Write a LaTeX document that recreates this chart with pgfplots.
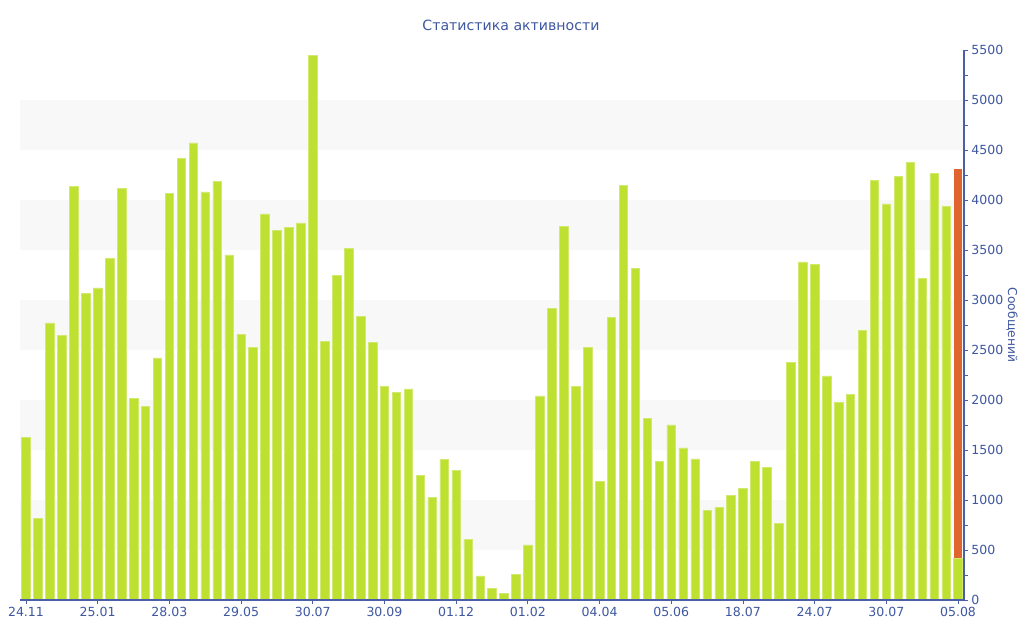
\documentclass[border=0pt]{standalone}
\usepackage{pgfplots}
\pgfplotsset{compat=1.18}
\usepackage{pgfplotstable}
\usepackage{fontspec}
\setmainfont{DejaVu Sans}
\definecolor{txtblue}{RGB}{62,87,160}
\definecolor{axblue}{RGB}{74,95,168}
\definecolor{bargreen}{RGB}{190,224,48}
\definecolor{barorange}{RGB}{224,100,45}
\definecolor{band}{RGB}{248,248,248}
\pgfplotstableread{
x g o
0 1630 0
1 819 0
2 2771 0
3 2645 0
4 4134 0
5 3067 0
6 3122 0
7 3419 0
8 4115 0
9 2015 0
10 1937 0
11 2422 0
12 4067 0
13 4419 0
14 4571 0
15 4082 0
16 4186 0
17 3452 0
18 2656 0
19 2530 0
20 3860 0
21 3693 0
22 3726 0
23 3771 0
24 5445 0
25 2589 0
26 3245 0
27 3519 0
28 2837 0
29 2578 0
30 2137 0
31 2078 0
32 2111 0
33 1245 0
34 1030 0
35 1407 0
36 1296 0
37 607 0
38 241 0
39 115 0
40 67 0
41 259 0
42 552 0
43 2041 0
44 2919 0
45 3737 0
46 2137 0
47 2526 0
48 1189 0
49 2826 0
50 4148 0
51 3319 0
52 1819 0
53 1389 0
54 1752 0
55 1522 0
56 1411 0
57 896 0
58 930 0
59 1048 0
60 1119 0
61 1385 0
62 1326 0
63 763 0
64 2378 0
65 3382 0
66 3356 0
67 2241 0
68 1974 0
69 2056 0
70 2693 0
71 4197 0
72 3960 0
73 4237 0
74 4378 0
75 3215 0
76 4267 0
77 3937 0
78 419 3889
}\datatable
\begin{document}
\begin{tikzpicture}
\useasboundingbox (-15pt,-30pt) rectangle (753pt,450pt);
% background bands
\begin{axis}[
  scale only axis,
  width=708pt, height=412.5pt,
  xmin=-0.5, xmax=78.5,
  ymin=0, ymax=5500,
  hide axis,
]
\foreach \lo in {500,1500,2500,3500,4500}{
  \edef\tmp{\noexpand\fill[band] (axis cs:-0.5,\lo) rectangle (axis cs:78.5,\lo+500);}
  \tmp
}
\end{axis}
\begin{axis}[
  scale only axis,
  axis on top,
  width=708pt, height=412.5pt,
  xmin=-0.5, xmax=78.5,
  ymin=0, ymax=5500,
  ybar stacked,
  bar width=6.4pt,
  axis x line*=bottom,
  axis y line*=right,
  axis line style={axblue, line width=0.8pt},
  xtick={0,6,...,78},
  xticklabels={24.11,25.01,28.03,29.05,30.07,30.09,01.12,01.02,04.04,05.06,18.07,24.07,30.07,05.08},
  ytick={0,500,...,5500},
  minor y tick num=1,
  tick align=outside,
  major tick length=3pt,
  minor tick length=3pt,
  every tick/.style={axblue, line width=0.6pt},
  /pgf/number format/assume math mode=true,
  /pgf/number format/1000 sep={},
  tick label style={font=\fontsize{9.4}{11}\selectfont, text=txtblue},
  xticklabel style={yshift=1pt},
  yticklabel style={xshift=-1pt},
  ylabel={Сообщений},
  ylabel style={rotate=180, at={(axis description cs:1,0.5)}, anchor=center, yshift=36pt, font=\fontsize{9.2}{11}\selectfont, text=txtblue},
  clip=false,
]
\addplot[fill=bargreen, draw=bargreen!70!white, line width=0.4pt] table[x=x, y=g] {\datatable};
\addplot[fill=barorange, draw=none] table[x=x, y=o] {\datatable};
\end{axis}
\node[text=txtblue, font=\fontsize{10.6}{12}\selectfont] at (368.25pt,431.25pt) {Статистика активности};
\end{tikzpicture}
\end{document}
